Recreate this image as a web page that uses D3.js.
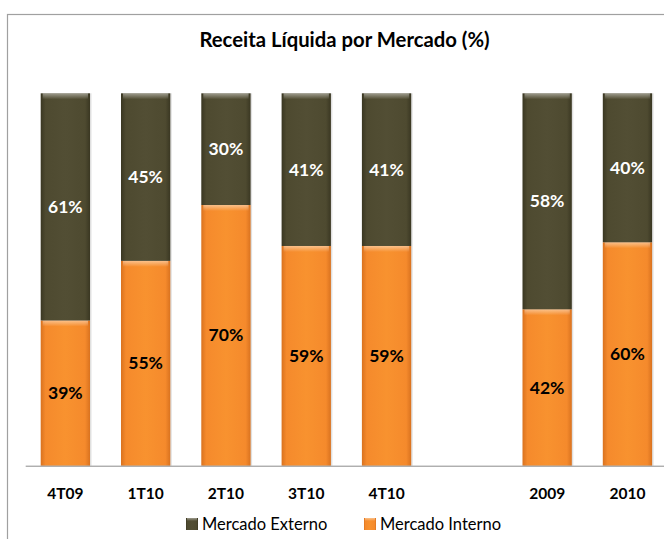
<!DOCTYPE html>
<html>
<head>
<meta charset="utf-8">
<script src="https://cdn.jsdelivr.net/npm/d3@7"></script>
<style>
  body { margin: 0; background: #fff; }
  text { font-family: Lato, 'Open Sans', sans-serif; }
</style>
</head>
<body>
<div id="chart"></div>
<script>
// data
var categories = ['4T09', '1T10', '2T10', '3T10', '4T10', ' ', '2009', '2010']
var mercadoInterno = [39, 55, 70, 59, 59, null, 42, 60]
var mercadoExterno = [61, 45, 30, 41, 41, null, 58, 40]
var seriesNames = ['Mercado Externo', 'Mercado Interno']

var width = 664
var height = 539

var svg = d3
  .select('#chart')
  .append('svg')
  .attr('width', width)
  .attr('height', height)

svg.append('rect')
  .attr('width', width)
  .attr('height', height)
  .attr('fill', '#fff')

// chart frame, cut off on the right and bottom
svg.append('rect')
  .attr('x', 7.5)
  .attr('y', 14.5)
  .attr('width', 700)
  .attr('height', 600)
  .attr('fill', 'none')
  .attr('stroke', '#a0a0a0')
  .attr('stroke-width', 1.2)

var defs = svg.append('defs')

function barGradient(id, dark, mid, light) {
  let g = defs.append('linearGradient')
    .attr('id', id)
    .attr('x1', 0).attr('x2', 1).attr('y1', 0).attr('y2', 0)
  g.append('stop').attr('offset', '0%').attr('stop-color', dark)
  g.append('stop').attr('offset', '10%').attr('stop-color', mid)
  g.append('stop').attr('offset', '50%').attr('stop-color', light)
  g.append('stop').attr('offset', '90%').attr('stop-color', mid)
  g.append('stop').attr('offset', '100%').attr('stop-color', dark)
}
barGradient('ext', '#3a3722', '#4e4a30', '#524e34')
barGradient('int', '#d9721f', '#f58a2c', '#f8922f')

let topGlow = defs.append('linearGradient')
  .attr('id', 'glow')
  .attr('x1', 0).attr('x2', 0).attr('y1', 0).attr('y2', 1)
topGlow.append('stop').attr('offset', '0%').attr('stop-color', '#fff').attr('stop-opacity', 0.45)
topGlow.append('stop').attr('offset', '100%').attr('stop-color', '#fff').attr('stop-opacity', 0)

let xPositionScale = d3
  .scaleBand()
  .domain(categories)
  .range([25.2, 667.6])
  .paddingInner(0.386)
  .paddingOuter(0.193)

let yPositionScale = d3
  .scaleLinear()
  .domain([0, 100])
  .range([465.7, 93.3])

// title
svg.append('text')
  .attr('x', 344.5)
  .attr('y', 47)
  .attr('text-anchor', 'middle')
  .attr('font-size', 20.3)
  .attr('font-weight', 'bold')
  .attr('fill', '#000')
  .text('Receita Líquida por Mercado (%)')

let rows = categories.map((c, i) => ({
  cat: c,
  interno: mercadoInterno[i],
  externo: mercadoExterno[i]
})).filter(d => d.interno !== null)

let segments = []
rows.forEach(d => {
  segments.push({ cat: d.cat, y0: 0, y1: d.interno, value: d.interno, kind: 'int' })
  segments.push({ cat: d.cat, y0: d.interno, y1: d.interno + d.externo, value: d.externo, kind: 'ext' })
})

svg
  .selectAll('.segment')
  .data(segments)
  .enter()
  .append('g')
  .attr('class', 'segment')
  .each(function(d) {
    let g = d3.select(this)
    let x = xPositionScale(d.cat)
    let w = xPositionScale.bandwidth()
    let yTop = yPositionScale(d.y1)
    let h = yPositionScale(d.y0) - yTop
    // soft shadow on the right
    g.append('rect')
      .attr('x', x + 1.5)
      .attr('y', yTop)
      .attr('width', w)
      .attr('height', h)
      .attr('fill', '#000')
      .attr('opacity', 0.12)
    g.append('rect')
      .attr('x', x)
      .attr('y', yTop)
      .attr('width', w)
      .attr('height', h)
      .attr('fill', `url(#${d.kind})`)
    g.append('rect')
      .attr('x', x + 2)
      .attr('y', yTop)
      .attr('width', w - 4)
      .attr('height', 6)
      .attr('fill', 'url(#glow)')
    g.append('text')
      .attr('x', x + w / 2)
      .attr('y', (yTop + yPositionScale(d.y0)) / 2)
      .attr('dy', '0.35em')
      .attr('text-anchor', 'middle')
      .attr('font-size', 17.5)
      .attr('font-weight', 'bold')
      .attr('fill', d.kind === 'ext' ? '#fff' : '#000')
      .text(d.value + '%')
  })

/* x axis */
var xAxis = d3.axisBottom(xPositionScale).tickSize(0).tickPadding(22)
let axisG = svg
  .append('g')
  .attr('class', 'axis x-axis')
  .attr('transform', 'translate(0,' + yPositionScale(0) + ')')
  .call(xAxis)
axisG.select('.domain').attr('stroke', '#8c8c8c')
axisG.selectAll('text')
  .attr('font-size', 15.5)
  .attr('font-weight', 'bold')
  .attr('fill', '#000')
  .style('font-family', 'Lato, sans-serif')

/* legend */
let legendX = [186, 364]
let legendColors = ['ext', 'int']
let legend = svg
  .selectAll('.legend')
  .data(seriesNames)
  .enter()
  .append('g')
  .attr('class', 'legend')
  .attr('transform', (d, i) => `translate(${legendX[i]},518)`)
legend.append('rect')
  .attr('width', 12)
  .attr('height', 12)
  .attr('fill', (d, i) => `url(#${legendColors[i]})`)
legend.append('rect')
  .attr('x', 1)
  .attr('width', 10)
  .attr('height', 3)
  .attr('fill', 'url(#glow)')
legend.append('text')
  .attr('x', 16)
  .attr('y', 6)
  .attr('dy', '0.35em')
  .attr('font-size', 16.5)
  .attr('fill', '#000')
  .text(d => d)
</script>
</body>
</html>
